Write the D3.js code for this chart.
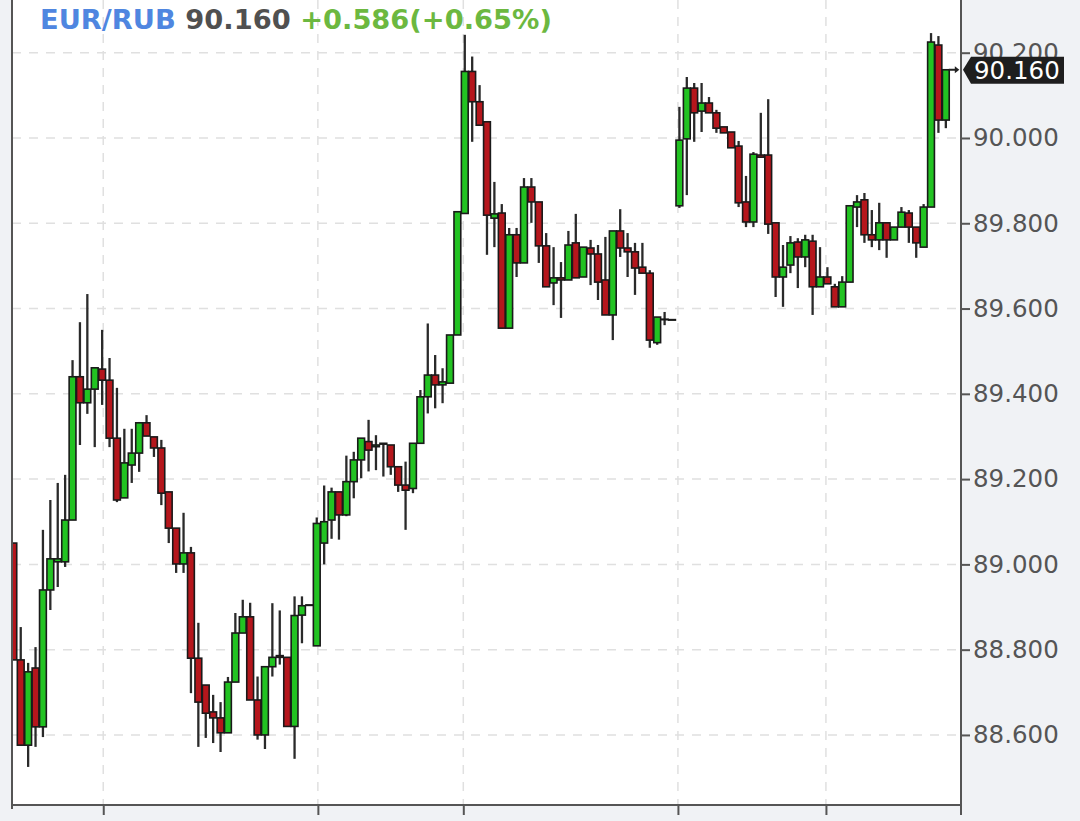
<!DOCTYPE html>
<html><head><meta charset="utf-8">
<script src="https://cdn.jsdelivr.net/npm/d3@7"></script>
<style>html,body{margin:0;padding:0;background:#f0f2f5;}svg{display:block;}</style>
</head><body>
<svg id="chart" width="1080" height="821"></svg>
<script>
// ---- data (EUR/RUB candles) ----
const opens  = [89.050,88.776,88.576,88.757,88.619,88.940,89.006,89.006,89.104,89.440,89.379,89.411,89.458,89.432,89.296,89.156,89.233,89.261,89.332,89.299,89.273,89.170,89.085,89.001,89.027,88.780,88.717,88.654,88.640,88.605,88.724,88.839,88.877,88.682,88.600,88.760,88.786,88.782,88.620,88.881,88.905,88.809,89.050,89.104,89.170,89.116,89.194,89.245,89.288,89.276,89.284,89.280,89.229,89.186,89.178,89.284,89.393,89.444,89.421,89.425,89.538,89.823,90.156,90.085,90.038,89.812,89.824,89.554,89.773,89.707,89.885,89.850,89.747,89.660,89.672,89.667,89.754,89.674,89.742,89.728,89.667,89.585,89.782,89.742,89.733,89.697,89.683,89.520,89.575,89.574,89.841,89.998,90.117,90.063,90.082,90.059,90.026,90.014,89.981,89.850,89.803,89.960,89.960,89.801,89.674,89.702,89.756,89.721,89.758,89.651,89.674,89.651,89.604,89.662,89.838,89.855,89.773,89.761,89.801,89.761,89.791,89.824,89.791,89.744,89.838,90.218,90.042];
const highs  = [89.050,88.853,88.769,88.806,89.081,89.151,89.191,89.210,89.479,89.568,89.634,89.461,89.550,89.484,89.414,89.318,89.318,89.334,89.350,89.299,89.292,89.170,89.085,89.121,89.041,88.863,88.717,88.694,88.677,88.736,88.886,88.917,88.910,88.737,88.760,88.909,88.892,88.782,88.925,88.925,88.905,89.110,89.185,89.180,89.170,89.255,89.264,89.296,89.339,89.303,89.284,89.280,89.229,89.241,89.284,89.409,89.565,89.491,89.460,89.538,89.827,90.242,90.191,90.124,90.038,89.897,89.845,89.789,89.789,89.906,89.906,89.850,89.777,89.744,89.709,89.782,89.822,89.744,89.761,89.749,89.768,89.782,89.833,89.777,89.754,89.754,89.690,89.580,89.592,89.574,90.073,90.143,90.129,90.129,90.096,90.066,90.026,90.014,89.993,89.911,89.967,90.059,90.091,89.801,89.749,89.770,89.765,89.773,89.773,89.744,89.697,89.658,89.676,89.841,89.866,89.871,89.831,89.848,89.801,89.791,89.838,89.831,89.791,89.845,90.246,90.239,90.160];
const lows   = [88.776,88.576,88.525,88.572,88.595,88.893,88.947,88.994,89.104,89.280,89.353,89.275,89.374,89.275,89.146,89.156,89.191,89.217,89.301,89.252,89.139,89.050,88.980,88.980,88.698,88.572,88.593,88.581,88.560,88.605,88.724,88.839,88.682,88.589,88.567,88.737,88.765,88.620,88.544,88.815,88.905,88.809,89.000,89.060,89.058,89.113,89.155,89.202,89.218,89.221,89.206,89.210,89.170,89.081,89.167,89.284,89.354,89.366,89.378,89.425,89.538,89.823,89.991,90.030,89.726,89.744,89.554,89.554,89.674,89.707,89.801,89.707,89.651,89.608,89.578,89.667,89.672,89.674,89.655,89.620,89.585,89.526,89.721,89.674,89.632,89.683,89.508,89.515,89.561,89.574,89.836,89.866,89.991,90.014,90.059,90.012,90.012,89.977,89.838,89.791,89.791,89.955,89.775,89.627,89.604,89.683,89.648,89.697,89.585,89.651,89.658,89.604,89.604,89.662,89.791,89.754,89.744,89.737,89.719,89.761,89.791,89.754,89.719,89.744,89.838,90.012,90.023];
const closes = [88.776,88.576,88.748,88.619,88.940,89.013,89.013,89.104,89.440,89.379,89.411,89.461,89.432,89.296,89.151,89.238,89.261,89.332,89.301,89.273,89.167,89.085,89.001,89.027,88.780,88.677,88.651,88.640,88.605,88.724,88.839,88.877,88.682,88.600,88.760,88.782,88.782,88.620,88.880,88.903,88.905,89.096,89.100,89.170,89.116,89.194,89.245,89.296,89.268,89.280,89.282,89.229,89.186,89.174,89.284,89.393,89.444,89.421,89.428,89.538,89.827,90.156,90.085,90.030,89.819,89.822,89.554,89.773,89.707,89.885,89.850,89.747,89.651,89.672,89.667,89.749,89.672,89.744,89.728,89.662,89.585,89.782,89.742,89.733,89.695,89.683,89.526,89.580,89.575,89.574,89.995,90.117,90.059,90.082,90.059,90.023,90.012,89.977,89.848,89.803,89.962,89.955,89.798,89.674,89.697,89.754,89.721,89.761,89.651,89.674,89.658,89.604,89.662,89.841,89.850,89.773,89.761,89.801,89.761,89.791,89.826,89.791,89.754,89.838,90.225,90.042,90.160];
const yTickValues = [88.6, 88.8, 89.0, 89.2, 89.4, 89.6, 89.8, 90.0, 90.2];
const xTickIdx = [12.15, 41.15, 60.8, 89.8, 109.8];
const symbol = "EUR/RUB";
const lastPrice = "90.160";
const changeText = "+0.586(+0.65%)";
const lastValue = 90.160;

// ---- layout ----
const svg = d3.select("#chart");
const L = 12, R = 961, T = 0, B = 805;
const x = d3.scaleLinear().domain([-0.18, 128.05]).range([L, R]);
const y = d3.scaleLinear().domain([88.4357, 90.3236]).range([B, T]);

svg.append("rect").attr("x", L).attr("y", T).attr("width", R - L).attr("height", B - T).attr("fill", "#ffffff");

// grid
const grid = svg.append("g").attr("stroke", "#e0e0e0").attr("stroke-width", 1.5).attr("stroke-dasharray", "9,8");
grid.selectAll(".hg").data(yTickValues).join("line")
  .attr("x1", L).attr("x2", R).attr("y1", d => y(d)).attr("y2", d => y(d));
grid.selectAll(".vg").data(xTickIdx).join("line")
  .attr("x1", d => x(d)).attr("x2", d => x(d)).attr("y1", T).attr("y2", B);

// candles
const clip = svg.append("defs").append("clipPath").attr("id", "plotclip");
clip.append("rect").attr("x", L).attr("y", T).attr("width", R - L).attr("height", B - T);
const candles = opens.map((o, i) => ({i, o, h: highs[i], l: lows[i], c: closes[i]}));
const cg = svg.append("g").attr("clip-path", "url(#plotclip)");
const bw = 6.8;
cg.selectAll(".wick").data(candles).join("line")
  .attr("x1", d => x(d.i)).attr("x2", d => x(d.i))
  .attr("y1", d => y(d.h)).attr("y2", d => y(d.l))
  .attr("stroke", "#2a2a2a").attr("stroke-width", 2.3);
cg.selectAll(".body").data(candles).join("rect")
  .attr("x", d => x(d.i) - bw / 2)
  .attr("width", bw)
  .attr("y", d => y(Math.max(d.o, d.c)))
  .attr("height", d => Math.max(0.5, Math.abs(y(d.o) - y(d.c))))
  .attr("fill", d => d.c >= d.o ? "#22c322" : "#b5161c")
  .attr("stroke", "#1a1a1a").attr("stroke-width", 1.6);

// last price marker arrow near last candle
const ly = y(lastValue);
const lastX = x(candles.length - 1);
svg.append("line").attr("x1", lastX + 3).attr("x2", lastX + 11).attr("y1", ly).attr("y2", ly)
  .attr("stroke", "#222").attr("stroke-width", 2);
svg.append("path").attr("d", `M${lastX + 9},${ly - 3.5} L${lastX + 13.5},${ly} L${lastX + 9},${ly + 3.5} Z`).attr("fill", "#222");

// axes frame
svg.append("line").attr("x1", L).attr("x2", L).attr("y1", 0).attr("y2", B + 4).attr("stroke", "#555").attr("stroke-width", 2);
const yAxis = d3.axisRight(y).tickValues(yTickValues).tickFormat(d3.format(".3f")).tickSize(9).tickPadding(3);
const ya = svg.append("g").attr("transform", `translate(${R},0)`).call(yAxis);
ya.select(".domain").attr("stroke", "#555").attr("stroke-width", 2).attr("d", `M0,${T}V${B + 10}`);
ya.selectAll(".tick line").attr("stroke", "#555").attr("stroke-width", 2);
ya.selectAll(".tick text").attr("fill", "#555").attr("font-family", "DejaVu Sans").attr("font-size", 24.5);

const xAxis = d3.axisBottom(x).tickValues(xTickIdx).tickFormat("").tickSize(10).tickSizeOuter(0);
const xa = svg.append("g").attr("transform", `translate(0,${B})`).call(xAxis);
xa.select(".domain").attr("stroke", "#555").attr("stroke-width", 2).attr("d", `M${L},0H${R}`);
xa.selectAll(".tick line").attr("stroke", "#555").attr("stroke-width", 2);

// price tag
const tg = svg.append("g");
tg.append("path").attr("d", `M963,${ly} L971,${ly - 13} L1064,${ly - 13} L1064,${ly + 14} L971,${ly + 14} Z`).attr("fill", "#1e1e1e");
tg.append("text").attr("x", 974).attr("y", ly).attr("dy", "0.36em").attr("fill", "#ffffff")
  .attr("font-family", "DejaVu Sans").attr("font-size", 24.5).text(lastPrice);

// header
const ht = svg.append("text").attr("x", 40).attr("y", 29).attr("font-family", "DejaVu Sans")
  .attr("font-weight", "bold").attr("font-size", 27.3);
ht.append("tspan").attr("fill", "#4f86e0").text(symbol + " ");
ht.append("tspan").attr("fill", "#505050").text(lastPrice + " ");
ht.append("tspan").attr("fill", "#6cb840").text(changeText);
</script>
</body></html>
